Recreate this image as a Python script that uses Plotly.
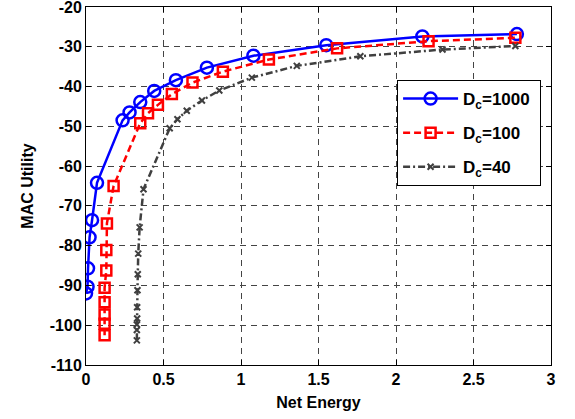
import plotly.graph_objects as go

x_1000 = [0.0, 0.01, 0.013, 0.023, 0.039, 0.071, 0.236, 0.281, 0.35, 0.44, 0.58, 0.78, 1.08, 1.55, 2.17, 2.78]
y_1000 = [-92, -90.3, -85.7, -77.9, -73.6, -64.2, -48.5, -46.5, -43.9, -41.1, -38.4, -35.25, -32.25, -29.6, -27.4, -26.8]

x_100 = [0.12, 0.12, 0.12, 0.12, 0.12, 0.131, 0.131, 0.135, 0.178, 0.35, 0.40, 0.464, 0.554, 0.687, 0.883, 1.18, 1.62, 2.21, 2.77]
y_100 = [-102.5, -99.6, -97.3, -94.2, -90.6, -86.25, -81.1, -74.4, -65, -49.2, -46.7, -44.6, -41.9, -39, -36.25, -33.2, -30.4, -28.6, -27.75]

x_40 = [0.328, 0.328, 0.328, 0.33, 0.33, 0.332, 0.334, 0.337, 0.346, 0.371, 0.54, 0.59, 0.65, 0.748, 0.86, 1.07, 1.36, 1.77, 2.30, 2.77]
y_40 = [-103.8, -101.2, -99.8, -98.3, -95.5, -91.2, -87.2, -82, -75.4, -65.8, -50.5, -48.2, -46.1, -43.5, -41, -37.75, -34.8, -32.4, -30.7, -29.8]

x_ticks = [0, 0.5, 1, 1.5, 2, 2.5, 3]
x_tick_labels = ["0", "0.5", "1", "1.5", "2", "2.5", "3"]
y_ticks = [-110, -100, -90, -80, -70, -60, -50, -40, -30, -20]
y_tick_labels = [str(v) for v in y_ticks]

FONT = "Liberation Sans"
LEG = "<b>D<sub>c</sub>=%s</b> "

fig = go.Figure()
fig.add_trace(go.Scatter(
    x=x_1000, y=y_1000, mode="lines+markers", name=LEG % "1000", legendgroup="g1",
    line=dict(color="#0000ff", width=2.5, dash="solid"),
    marker=dict(symbol="circle-open", size=12, color="#0000ff", line=dict(width=2.5, color="#0000ff")),
))
fig.add_trace(go.Scatter(
    x=x_100, y=y_100, mode="lines+markers", name=LEG % "100", legendgroup="g2",
    line=dict(color="#ff0000", width=2.5, dash="7px,4px"),
    marker=dict(symbol="square-open", size=10, color="#ff0000", line=dict(width=2.5, color="#ff0000")),
))
fig.add_trace(go.Scatter(
    x=x_40, y=y_40, mode="lines+markers", name=LEG % "40", legendgroup="g3",
    line=dict(color="#404040", width=2.5, dash="7px,3px,2px,3px"),
    marker=dict(symbol="x-thin-open", size=6, color="#404040", line=dict(width=2, color="#404040")),
))

axis_common = dict(
    showline=True, linecolor="black", linewidth=1, mirror="ticks",
    ticks="inside", ticklen=5, tickcolor="black",
    showgrid=True, gridcolor="#444444", griddash="6px,5px", gridwidth=1,
    zeroline=False, automargin=False, ticklabeloverflow="allow",
    tickfont=dict(family=FONT, size=16, color="black", weight="bold"),
)

fig.update_xaxes(range=[0, 3], tickvals=x_ticks, ticktext=x_tick_labels,
                 title=dict(text="<b>Net Energy</b>", font=dict(family=FONT, size=16, color="black"), standoff=9),
                 **axis_common)
fig.update_yaxes(range=[-110, -20], tickvals=y_ticks, ticktext=y_tick_labels,
                 title=dict(text="<b>MAC Utility</b>", font=dict(family=FONT, size=16, color="black"), standoff=12),
                 **axis_common)

fig.update_layout(
    width=575, height=419,
    margin=dict(l=86, r=24, t=7, b=54),
    paper_bgcolor="white", plot_bgcolor="white",
    font=dict(family=FONT, color="black"),
    legend=dict(
        x=0.669, y=0.796, xanchor="left", yanchor="top",
        bgcolor="white", bordercolor="black", borderwidth=1,
        font=dict(family=FONT, size=17, color="black"),
        itemwidth=55, tracegroupgap=9,
    ),
)

fig.write_html("out.html", config={"displayModeBar": False},
               post_script="document.body.style.margin='0';document.body.style.padding='0';")
